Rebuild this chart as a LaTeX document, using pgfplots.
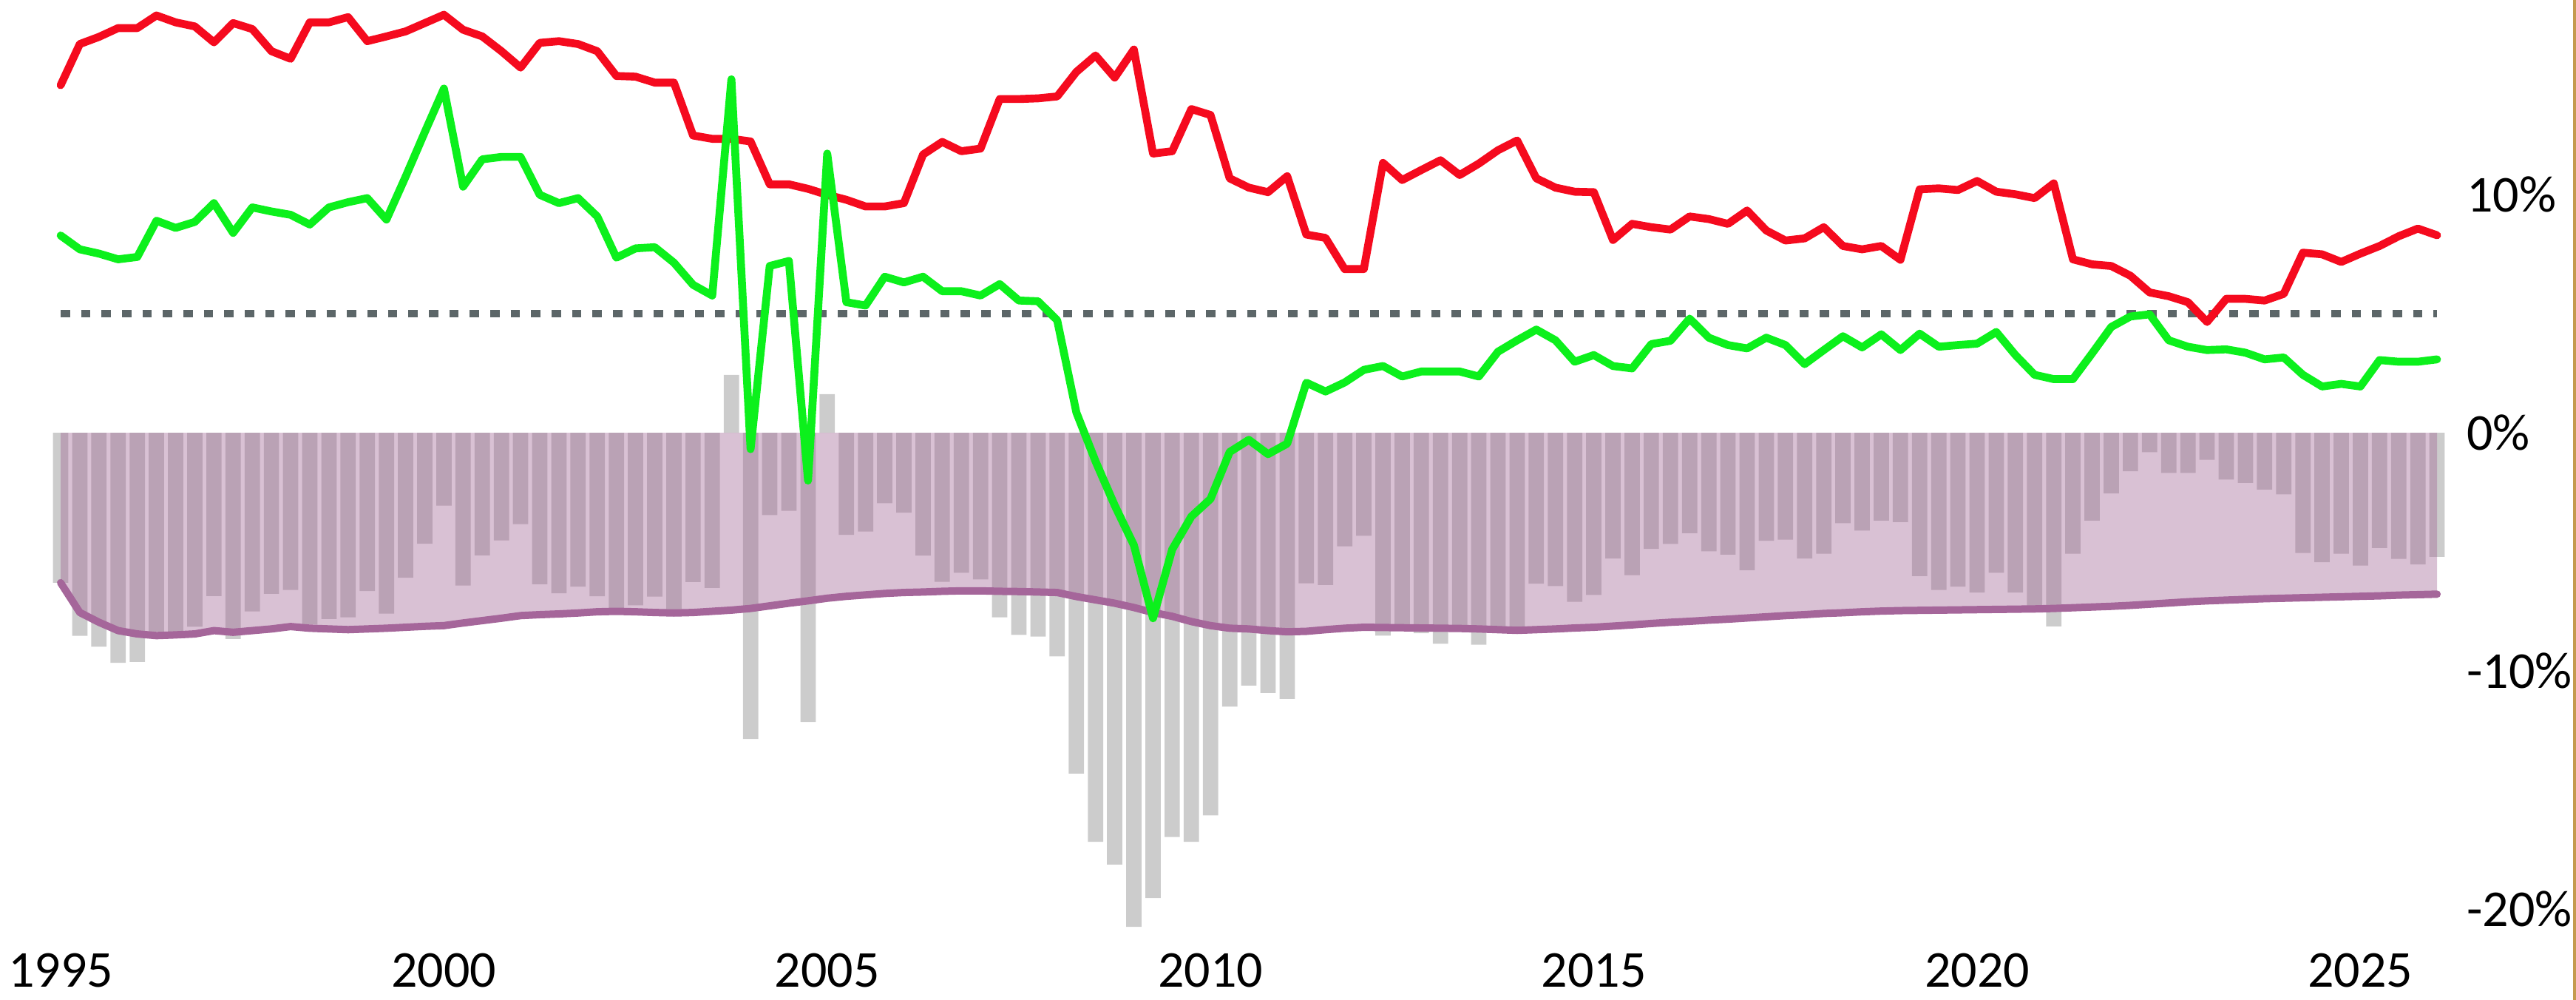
\documentclass[border=0pt]{standalone}
\usepackage{fontspec}
\setmainfont{Carlito}
\usepackage{pgfplots}
\usepackage{pgfplotstable}
\pgfplotsset{compat=1.18}

\definecolor{redline}{RGB}{245,10,30}
\definecolor{greenline}{RGB}{12,240,28}
\definecolor{bargray}{RGB}{204,204,204}
\definecolor{areamauve}{RGB}{158,96,145}
\definecolor{purpleline}{RGB}{165,102,154}
\definecolor{dotgray}{RGB}{92,102,104}
\definecolor{edgetan}{RGB}{196,154,78}

% quarterly values, percent
% r = red line, g = green line, b = bars, p = purple line (lower edge of shaded area)
\pgfplotstableread{
x r g b p
1995.00 14.59 8.28 -6.30 -6.30
1995.25 16.32 7.70 -8.53 -7.55
1995.50 16.62 7.52 -8.99 -7.96
1995.75 16.99 7.28 -9.66 -8.31
1996.00 16.99 7.38 -9.62 -8.45
1996.25 17.52 8.90 -8.35 -8.52
1996.50 17.23 8.60 -8.35 -8.49
1996.75 17.06 8.85 -8.15 -8.45
1997.00 16.39 9.64 -6.86 -8.31
1997.25 17.20 8.39 -8.66 -8.38
1997.50 16.95 9.46 -7.50 -8.31
1997.75 16.02 9.29 -6.77 -8.24
1998.00 15.70 9.15 -6.60 -8.14
1998.25 17.23 8.74 -8.05 -8.21
1998.50 17.23 9.46 -7.82 -8.24
1998.75 17.45 9.68 -7.75 -8.27
1999.00 16.44 9.85 -6.65 -8.24
1999.25 16.64 8.95 -7.60 -8.21
1999.50 16.85 10.75 -6.09 -8.17
1999.75 17.20 12.62 -4.66 -8.13
2000.00 17.55 14.45 -3.06 -8.10
2000.25 16.92 10.33 -6.42 -7.99
2000.50 16.64 11.48 -5.15 -7.89
2000.75 16.02 11.58 -4.52 -7.79
2001.00 15.33 11.58 -3.84 -7.68
2001.25 16.37 9.99 -6.36 -7.64
2001.50 16.44 9.64 -6.74 -7.61
2001.75 16.32 9.85 -6.46 -7.57
2002.00 16.02 9.08 -6.87 -7.52
2002.25 14.98 7.35 -7.42 -7.50
2002.50 14.95 7.74 -7.25 -7.52
2002.75 14.70 7.79 -6.88 -7.55
2003.00 14.70 7.14 -7.42 -7.57
2003.25 12.48 6.21 -6.27 -7.55
2003.50 12.34 5.76 -6.52 -7.50
2003.75 12.34 14.84 2.43 -7.45
2004.00 12.23 -0.69 -12.86 -7.38
2004.25 10.43 7.00 -3.46 -7.27
2004.50 10.43 7.21 -3.28 -7.16
2004.75 10.24 -2.01 -12.15 -7.06
2005.00 9.99 11.72 1.62 -6.95
2005.25 9.78 5.48 -4.29 -6.87
2005.50 9.50 5.34 -4.15 -6.81
2005.75 9.50 6.55 -2.96 -6.75
2006.00 9.64 6.31 -3.36 -6.71
2006.25 11.68 6.55 -5.16 -6.69
2006.50 12.21 5.94 -6.26 -6.66
2006.75 11.82 5.94 -5.88 -6.64
2007.00 11.93 5.76 -6.16 -6.64
2007.25 14.01 6.24 -7.75 -6.66
2007.50 14.01 5.55 -8.49 -6.67
2007.75 14.04 5.52 -8.56 -6.69
2008.00 14.12 4.72 -9.39 -6.71
2008.25 15.15 0.85 -14.31 -6.88
2008.50 15.84 -1.20 -17.18 -7.02
2008.75 14.91 -3.05 -18.13 -7.16
2009.00 16.09 -4.72 -20.75 -7.34
2009.25 11.72 -7.79 -19.54 -7.55
2009.50 11.82 -4.90 -16.98 -7.71
2009.75 13.59 -3.52 -17.18 -7.93
2010.00 13.34 -2.78 -16.07 -8.10
2010.25 10.68 -0.81 -11.50 -8.21
2010.50 10.29 -0.30 -10.62 -8.24
2010.75 10.10 -0.90 -10.93 -8.31
2011.00 10.77 -0.46 -11.18 -8.36
2011.25 8.32 2.10 -6.32 -8.34
2011.50 8.18 1.73 -6.39 -8.27
2011.75 6.87 2.11 -4.77 -8.21
2012.00 6.87 2.64 -4.33 -8.17
2012.25 11.33 2.80 -8.52 -8.18
2012.50 10.61 2.36 -8.10 -8.19
2012.75 11.03 2.57 -8.42 -8.20
2013.00 11.44 2.57 -8.86 -8.21
2013.25 10.82 2.57 -8.10 -8.22
2013.50 11.30 2.36 -8.90 -8.24
2013.75 11.86 3.40 -8.20 -8.27
2014.00 12.27 3.88 -8.25 -8.30
2014.25 10.68 4.33 -6.34 -8.27
2014.50 10.29 3.88 -6.44 -8.24
2014.75 10.12 2.98 -7.10 -8.20
2015.00 10.10 3.26 -6.81 -8.17
2015.25 8.09 2.80 -5.28 -8.12
2015.50 8.77 2.70 -5.98 -8.07
2015.75 8.63 3.72 -4.88 -8.01
2016.00 8.53 3.86 -4.67 -7.96
2016.25 9.08 4.79 -4.22 -7.92
2016.50 8.97 3.99 -4.98 -7.87
2016.75 8.77 3.68 -5.12 -7.83
2017.00 9.33 3.54 -5.77 -7.78
2017.25 8.49 3.99 -4.54 -7.73
2017.50 8.07 3.68 -4.49 -7.68
2017.75 8.16 2.88 -5.28 -7.64
2018.00 8.63 3.47 -5.08 -7.59
2018.25 7.84 4.05 -3.80 -7.56
2018.50 7.70 3.58 -4.11 -7.52
2018.75 7.84 4.13 -3.69 -7.49
2019.00 7.26 3.47 -3.75 -7.47
2019.25 10.22 4.16 -6.02 -7.46
2019.50 10.26 3.61 -6.60 -7.45
2019.75 10.19 3.68 -6.46 -7.44
2020.00 10.57 3.74 -6.71 -7.43
2020.25 10.12 4.23 -5.88 -7.42
2020.50 10.01 3.26 -6.71 -7.41
2020.75 9.85 2.43 -7.30 -7.40
2021.00 10.47 2.25 -8.13 -7.38
2021.25 7.28 2.25 -5.08 -7.35
2021.50 7.07 3.33 -3.69 -7.32
2021.75 7.00 4.44 -2.55 -7.29
2022.00 6.59 4.88 -1.62 -7.25
2022.25 5.89 4.97 -0.82 -7.20
2022.50 5.73 3.88 -1.69 -7.15
2022.75 5.48 3.61 -1.69 -7.10
2023.00 4.65 3.47 -1.14 -7.06
2023.25 5.62 3.50 -1.97 -7.03
2023.50 5.62 3.36 -2.11 -7.00
2023.75 5.55 3.08 -2.39 -6.97
2024.00 5.83 3.16 -2.59 -6.95
2024.25 7.56 2.43 -5.05 -6.93
2024.50 7.49 1.94 -5.44 -6.91
2024.75 7.17 2.05 -5.08 -6.89
2025.00 7.52 1.94 -5.58 -6.87
2025.25 7.84 3.05 -4.84 -6.85
2025.50 8.25 2.98 -5.30 -6.82
2025.75 8.57 2.98 -5.53 -6.80
2026.00 8.29 3.08 -5.21 -6.78
}\data

\begin{document}
\begin{tikzpicture}
\begin{axis}[
    name=ax,
    scale only axis,
    width=522.6pt,
    height=202.8pt,
    xmin=1994.209, xmax=2027.8125,
    ymin=-23.82, ymax=18.17,
    clip=false,
    axis line style={draw=none},
    tick style={draw=none},
    xtick={1995,2000,2005,2010,2015,2020,2025},
    xticklabels={1995,2000,2005,2010,2015,2020,2025},
    xticklabel style={anchor=base, inner sep=0pt, yshift=2.55pt},
    ytick={-20,-10,0,10},
    yticklabels={-20\%,-10\%,0\%,10\%},
    yticklabel pos=right,
    yticklabel style={anchor=west, inner sep=0pt, xshift=-22.35pt},
    tick label style={font=\fontsize{10.5}{12.6}\selectfont},
]

% bars
\addplot[ybar, bar width=0.2, bar shift=0pt, draw=none, fill=bargray]
    table[x=x, y=b] {\data};

% shaded area down to the purple line
\addplot[draw=none, fill=areamauve, fill opacity=0.39]
    table[x=x, y=p] {\data} \closedcycle;

% purple line
\addplot[purpleline, line width=1.5pt, line cap=round, line join=round]
    table[x=x, y=p] {\data};

% 5% reference
\addplot[dotgray, line width=1.5pt, dash pattern=on 1.9pt off 2.25pt]
    coordinates {(1995,5) (2026,5)};

% red and green series
\addplot[redline, line width=1.6pt, line join=round, line cap=round]
    table[x=x, y=r] {\data};
\addplot[greenline, line width=1.6pt, line join=round, line cap=round]
    table[x=x, y=g] {\data};

% frame edge on the right
\draw[edgetan, line width=0.6pt]
    ([xshift=-0.3pt]rel axis cs:1,0) -- ([xshift=-0.3pt]rel axis cs:1,1);
\end{axis}
\pgfresetboundingbox
\useasboundingbox (ax.south west) rectangle (ax.north east);
\end{tikzpicture}
\end{document}
